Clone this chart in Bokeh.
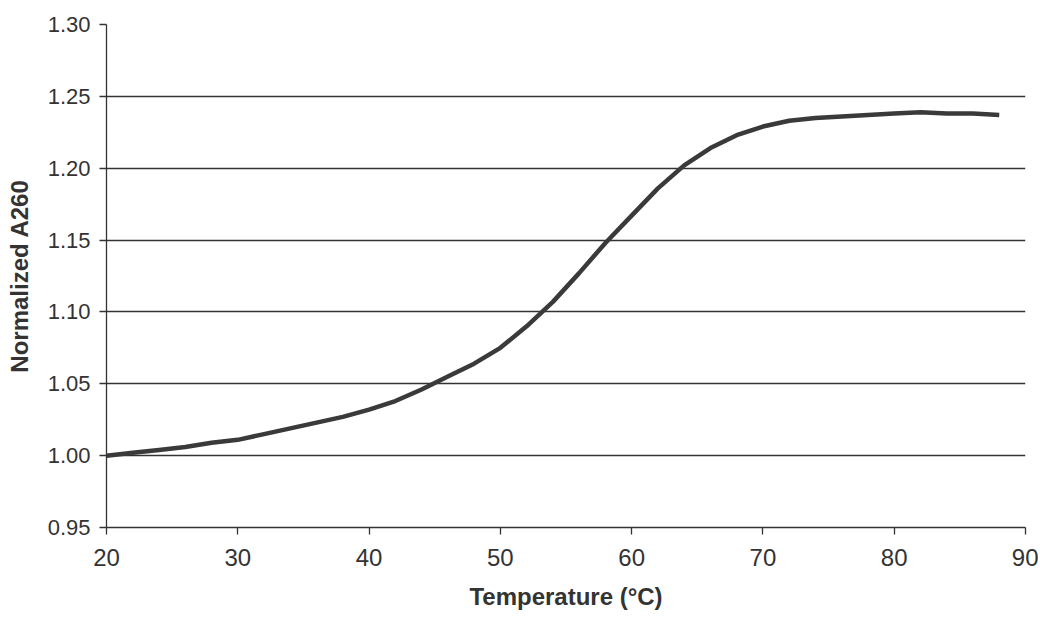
from bokeh.plotting import figure
from bokeh.models import FixedTicker, NumeralTickFormatter, Range1d
from bokeh.embed import file_html
from bokeh.resources import INLINE

# Melting curve data
temperature = [20, 22, 24, 26, 28, 30, 32, 34, 36, 38, 40, 42, 44, 46, 48, 50,
               52, 54, 56, 58, 60, 62, 64, 66, 68, 70, 72, 74, 76, 78, 80, 82,
               84, 86, 88]
normalized_a260 = [1.000, 1.002, 1.004, 1.006, 1.009, 1.011, 1.015, 1.019, 1.023,
                   1.027, 1.032, 1.038, 1.046, 1.055, 1.064, 1.075, 1.090, 1.107,
                   1.127, 1.148, 1.167, 1.186, 1.202, 1.214, 1.223, 1.229, 1.233,
                   1.235, 1.236, 1.237, 1.238, 1.239, 1.238, 1.238, 1.237]

x_ticks = [20, 30, 40, 50, 60, 70, 80, 90]
y_ticks = [0.95, 1.00, 1.05, 1.10, 1.15, 1.20, 1.25, 1.30]

x_title = "Temperature (°C)"
y_title = "Normalized A260"

INK = "#333333"
FONT = "Liberation Sans"

p = figure(width=1038, height=620, output_backend="svg", toolbar_location=None,
           x_range=Range1d(20, 90), y_range=Range1d(0.95, 1.30),
           min_border_left=106, min_border_right=13, min_border_top=24,
           min_border_bottom=93)

p.background_fill_color = "white"
p.border_fill_color = "white"
p.outline_line_color = None

p.line(temperature, normalized_a260, line_color="#3a3a3a", line_width=4.5,
       line_join="round")

# axes
p.xaxis.ticker = FixedTicker(ticks=x_ticks)
p.yaxis.ticker = FixedTicker(ticks=y_ticks)
p.yaxis.formatter = NumeralTickFormatter(format="0.00")
for ax in (p.xaxis, p.yaxis):
    ax.axis_line_color = INK
    ax.axis_line_width = 1.3
    ax.major_tick_line_color = INK
    ax.major_tick_line_width = 1.3
    ax.major_tick_out = 7
    ax.major_tick_in = 0
    ax.minor_tick_line_color = None
    ax.major_label_text_font = FONT
    ax.major_label_text_color = INK
    ax.axis_label_text_font = FONT
    ax.axis_label_text_font_style = "bold"
    ax.axis_label_text_color = INK
    ax.axis_label_text_font_size = "24px"

p.xaxis.major_label_text_font_size = "24px"
p.yaxis.major_label_text_font_size = "22px"
p.xaxis.major_label_standoff = 14
p.yaxis.major_label_standoff = 9
p.xaxis.axis_label = x_title
p.yaxis.axis_label = y_title
p.xaxis.axis_label_standoff = 14
p.yaxis.axis_label_standoff = 12

p.xgrid.visible = False
p.ygrid.ticker = FixedTicker(ticks=y_ticks)
p.ygrid.grid_line_color = INK
p.ygrid.grid_line_width = 1.3

open("out.html", "w").write(file_html(p, INLINE))
